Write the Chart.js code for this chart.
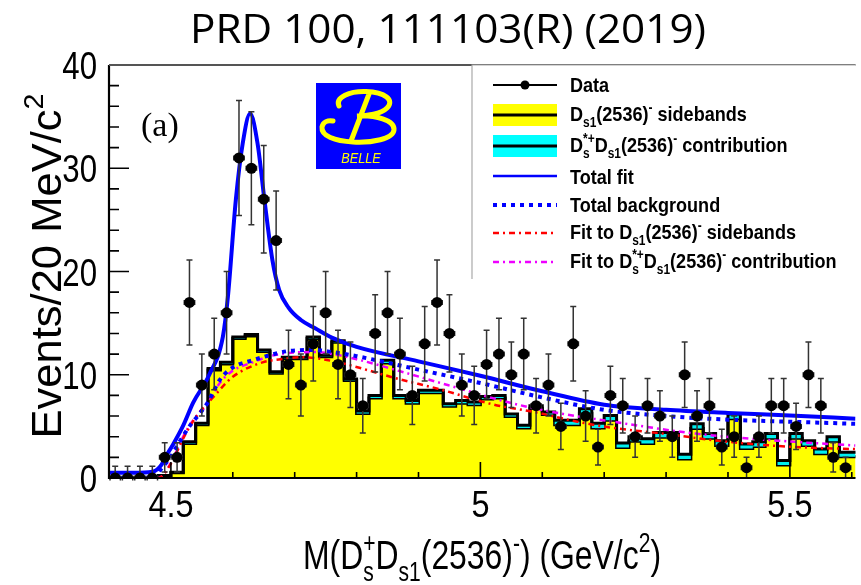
<!DOCTYPE html>
<html>
<head>
<meta charset="utf-8">
<script src="https://cdn.jsdelivr.net/npm/chart.js@4.4.0/dist/chart.umd.min.js"></script>
<style>
  html, body { margin: 0; padding: 0; background: #fff; }
</style>
</head>
<body>
<canvas id="mass-chart" width="861" height="585"></canvas>
<script>
// Bin centres, 20 MeV bins from 4.40 GeV
const massBins = [
  4.41, 4.43, 4.45, 4.47, 4.49, 4.51, 4.53, 4.55, 4.57, 4.59,
  4.61, 4.63, 4.65, 4.67, 4.69, 4.71, 4.73, 4.75, 4.77, 4.79,
  4.81, 4.83, 4.85, 4.87, 4.89, 4.91, 4.93, 4.95, 4.97, 4.99,
  5.01, 5.03, 5.05, 5.07, 5.09, 5.11, 5.13, 5.15, 5.17, 5.19,
  5.21, 5.23, 5.25, 5.27, 5.29, 5.31, 5.33, 5.35, 5.37, 5.39,
  5.41, 5.43, 5.45, 5.47, 5.49, 5.51, 5.53, 5.55, 5.57, 5.59
];
const binWidth = 0.02;

// Events per bin
const dataCounts = [
  0, 0, 0, 0, 2, 2, 17, 9, 12, 16,
  31, 30, 27, 23, 11, 9, 13, 16, 11, 10,
  7, 14, 16, 12, 8, 13, 17, 14, 9, 8,
  11, 12, 10, 12, 7, 9, 5, 13, 6, 3,
  8, 7, 4, 7, 6, 4, 10, 6, 7, 3,
  4, 1, 4, 7, 7, 5, 10, 7, 2, 1
];

// Ds1(2536) sideband histogram (yellow)
const sidebandHist = [
  0, 0, 0, 0, 0.2, 0.5, 3.35, 5.15, 10.45, 11.05,
  13.5, 13.75, 12.25, 10.15, 11.55, 11.55, 13.5, 11.75, 13.15, 9.45,
  6.25, 7.75, 11.15, 7.75, 7.25, 8.25, 8.25, 6.95, 7.25, 7.1,
  7.65, 7.75, 5.95, 4.85, 6.75, 6.15, 5.15, 5.15, 6.25, 4.85,
  5.6, 2.95, 3.55, 3.35, 3.95, 3.95, 1.85, 4.8, 3.85, 3.15,
  5.75, 2.85, 3.05, 3.85, 1.25, 3.85, 3.15, 2.35, 3.55, 2.05
];

// Ds*+ Ds1(2536)- contribution stacked on top (cyan)
const contribHist = [
  0, 0, 0, 0, 0.05, 0.05, 0.15, 0.15, 0.15, 0.15,
  0.15, 0.15, 0.15, 0.15, 0.15, 0.15, 0.15, 0.15, 0.15, 0.15,
  0.25, 0.25, 0.25, 0.25, 0.25, 0.25, 0.25, 0.25, 0.25, 0.25,
  0.25, 0.25, 0.25, 0.25, 0.25, 0.25, 0.45, 0.45, 0.45, 0.45,
  0.45, 0.45, 0.45, 0.45, 0.45, 0.45, 0.45, 0.45, 0.45, 0.45,
  0.45, 0.45, 0.45, 0.45, 0.45, 0.45, 0.45, 0.45, 0.45, 0.45
];

// fit curves, [mass, events]
const totalFit = [
  [4.40, 0.5], [4.44, 0.5], [4.47, 0.6], [4.485, 1.3], [4.49, 1.9], [4.504, 3.3],
  [4.52, 5.1], [4.536, 7.3], [4.562, 10.0], [4.584, 13.7], [4.592, 17.5], [4.605, 27.0],
  [4.616, 32.4], [4.628, 35.3], [4.640, 32.4], [4.651, 27.0], [4.664, 21.1],
  [4.675, 18.2], [4.69, 16.5], [4.71, 15.3], [4.733, 14.5], [4.76, 13.6],
  [4.80, 12.7], [4.90, 11.3], [5.00, 9.9], [5.10, 8.4], [5.20, 7.1],
  [5.30, 6.6], [5.40, 6.3], [5.50, 6.05], [5.606, 5.75]
];
const totalBackground = [
  [4.40, 0], [4.475, 0], [4.482, 0.7], [4.498, 1.9], [4.509, 3.0], [4.52, 4.1],
  [4.533, 5.25], [4.546, 6.2], [4.56, 7.35], [4.579, 9.5],
  [4.60, 10.7], [4.632, 11.4], [4.66, 11.9], [4.69, 12.3], [4.73, 12.4],
  [4.76, 12.2], [4.80, 11.8], [4.90, 10.5], [5.00, 9.2], [5.10, 7.8],
  [5.20, 6.6], [5.30, 6.0], [5.40, 5.65], [5.50, 5.45], [5.606, 5.25]
];
const sidebandFit = [
  [4.40, 0], [4.48, 0], [4.496, 1.0], [4.525, 4.4], [4.544, 6.2], [4.568, 7.8], [4.60, 9.8],
  [4.648, 11.2], [4.677, 11.5], [4.712, 11.7], [4.771, 11.2], [4.803, 10.7],
  [4.867, 9.6], [4.931, 8.65], [5.022, 7.1], [5.086, 6.4], [5.161, 5.4],
  [5.209, 4.9], [5.294, 4.3], [5.401, 3.5], [5.508, 3.0], [5.606, 2.8]
];
const contribFit = [
  [4.40, 0], [4.48, 0], [4.496, 1.05], [4.525, 4.6], [4.544, 6.2], [4.557, 7.0], [4.579, 9.2],
  [4.60, 10.4], [4.632, 11.2], [4.66, 11.8], [4.69, 12.1], [4.73, 12.2],
  [4.77, 11.9], [4.80, 11.5], [4.867, 10.4], [4.947, 9.0], [5.054, 7.2],
  [5.134, 6.2], [5.198, 5.6], [5.348, 4.3], [5.508, 3.5], [5.606, 3.15]
];

const yTicks = [0, 10, 20, 30, 40];
const xTicks = [4.5, 5, 5.5];

const SANS = '"Liberation Sans", Arial, Helvetica, sans-serif';

// step histogram points at the low edge of each bin
function histPoints(values) {
  const pts = massBins.map((m, i) => ({ x: m - binWidth / 2, y: values[i] }));
  const last = values[values.length - 1];
  pts.push({ x: massBins[massBins.length - 1] + binWidth / 2, y: last });
  pts.push({ x: 5.65, y: last });
  return pts;
}
const stackedHist = sidebandHist.map((v, i) => v + contribHist[i]);
const toXY = arr => arr.map(p => ({ x: p[0], y: p[1] }));

// text with sub/superscripts: parts are strings or {sub, sup}
function layoutRich(ctx, parts, size, weight, family) {
  const small = size * 0.66;
  let w = 0;
  const items = [];
  parts.forEach(p => {
    if (typeof p === 'string') {
      ctx.font = weight + ' ' + size + 'px ' + family;
      items.push({ t: p, x: w, dy: 0, font: ctx.font });
      w += ctx.measureText(p).width;
    } else {
      ctx.font = weight + ' ' + small + 'px ' + family;
      let sw = 0;
      if (p.sub) {
        items.push({ t: p.sub, x: w, dy: size * 0.3, font: ctx.font });
        sw = Math.max(sw, ctx.measureText(p.sub).width);
      }
      if (p.sup) {
        items.push({ t: p.sup, x: w, dy: -size * 0.42, font: ctx.font });
        sw = Math.max(sw, ctx.measureText(p.sup).width);
      }
      w += sw;
    }
  });
  return { items, width: w };
}

function drawRich(ctx, parts, x, y, o) {
  const lay = layoutRich(ctx, parts, o.size, o.weight || 'normal', o.family || SANS);
  const sx = o.width ? o.width / lay.width : (o.scaleX || 1);
  ctx.save();
  ctx.translate(x, y);
  if (o.rotate) ctx.rotate(o.rotate);
  ctx.scale(sx, 1);
  let x0 = 0;
  if (o.align === 'center') x0 = -lay.width / 2;
  if (o.align === 'right') x0 = -lay.width;
  ctx.fillStyle = o.color || '#000';
  ctx.textAlign = 'left';
  ctx.textBaseline = 'alphabetic';
  lay.items.forEach(it => {
    ctx.font = it.font;
    ctx.fillText(it.t, x0 + it.x, it.dy);
  });
  ctx.restore();
}

// vertical and horizontal error bars under the data markers
const errorBars = {
  id: 'errorBars',
  beforeDatasetDraw(chart, args) {
    if (args.index !== 0) return;
    const { ctx, scales: { x, y } } = chart;
    ctx.save();
    ctx.strokeStyle = '#333';
    ctx.lineWidth = 1.5;
    massBins.forEach((m, i) => {
      const n = dataCounts[i];
      const e = n > 0 ? Math.sqrt(n) : 1.15;
      const px = x.getPixelForValue(m);
      const top = y.getPixelForValue(n + e);
      const bot = y.getPixelForValue(Math.max(0, n - e));
      const py = y.getPixelForValue(n);
      const xl = x.getPixelForValue(m - binWidth / 2) + 1;
      const xr = x.getPixelForValue(m + binWidth / 2) - 1;
      ctx.beginPath();
      ctx.moveTo(px, top); ctx.lineTo(px, bot);
      ctx.moveTo(px - 3, top); ctx.lineTo(px + 3, top);
      if (n > 0) { ctx.moveTo(px - 3, bot); ctx.lineTo(px + 3, bot); }
      ctx.moveTo(xl, py); ctx.lineTo(xr, py);
      ctx.moveTo(xl, py - 2.5); ctx.lineTo(xl, py + 2.5);
      ctx.moveTo(xr, py - 2.5); ctx.lineTo(xr, py + 2.5);
      ctx.stroke();
    });
    ctx.restore();
  }
};

// frame, inside ticks and axis labels
const axisFrame = {
  id: 'axisFrame',
  afterDatasetsDraw(chart) {
    const { ctx, chartArea: a, scales: { x, y } } = chart;
    ctx.save();
    ctx.strokeStyle = '#000';
    ctx.lineWidth = 1.6;
    ctx.beginPath();
    for (let v = 0; v <= 40; v += 2) {
      const py = y.getPixelForValue(v);
      const len = v % 10 === 0 ? 20 : 10;
      ctx.moveTo(a.left, py); ctx.lineTo(a.left + len, py);
    }
    for (let i = 44; i <= 56; i++) {
      const px = x.getPixelForValue(i / 10);
      const len = i % 5 === 0 ? 16 : 6;
      ctx.moveTo(px, a.bottom); ctx.lineTo(px, a.bottom - len);
    }
    ctx.stroke();
    ctx.lineWidth = 2.2;
    ctx.beginPath();
    ctx.moveTo(a.left, a.top); ctx.lineTo(a.left, a.bottom); ctx.lineTo(a.right, a.bottom);
    ctx.stroke();
    ctx.strokeStyle = '#555';
    ctx.beginPath();
    ctx.moveTo(a.left, a.top); ctx.lineTo(a.right, a.top);
    ctx.stroke();
    ctx.restore();

    yTicks.forEach(v => {
      drawRich(ctx, [String(v)], a.left - 12, y.getPixelForValue(v) + 14, { size: 39, align: 'right', scaleX: 0.8 });
    });
    xTicks.forEach(v => {
      drawRich(ctx, [String(v)], x.getPixelForValue(v), 517, { size: 36, align: 'center', scaleX: 0.9 });
    });
    drawRich(ctx, ['M(D', { sub: 's', sup: '+' }, 'D', { sub: 's1' }, '(2536)', { sup: '-' }, ') (GeV/c', { sup: '2' }, ')'],
      482, 569, { size: 41, align: 'center', width: 358 });
    drawRich(ctx, ['Events/20 MeV/c', { sup: '2' }], 61, 266,
      { size: 42, align: 'center', width: 345, rotate: -Math.PI / 2 });
    drawRich(ctx, ['(a)'], 141, 136, { size: 34, family: '"Liberation Serif", "Times New Roman", serif' });
  }
};

// legend box with the ROOT style entries
const rootLegend = {
  id: 'rootLegend',
  afterDatasetsDraw(chart) {
    const { ctx, chartArea: a } = chart;
    const x0 = 472, y0 = a.top, y1 = 279;
    const s0 = 493, s1 = 557, tx = 570;
    ctx.save();
    ctx.fillStyle = '#fff';
    ctx.fillRect(x0, y0, a.right - x0, y1 - y0);
    ctx.strokeStyle = '#aaa';
    ctx.lineWidth = 1.2;
    ctx.beginPath();
    ctx.moveTo(a.right, y0); ctx.lineTo(x0, y0); ctx.lineTo(x0, y1);
    ctx.stroke();

    const line = (yy, color, width, dash) => {
      ctx.save();
      ctx.strokeStyle = color; ctx.lineWidth = width; ctx.setLineDash(dash || []);
      ctx.beginPath(); ctx.moveTo(s0, yy); ctx.lineTo(s1, yy); ctx.stroke();
      ctx.restore();
    };
    line(85, '#000', 2);
    ctx.fillStyle = '#000';
    ctx.beginPath(); ctx.arc((s0 + s1) / 2, 85, 4.5, 0, Math.PI * 2); ctx.fill();
    ctx.fillStyle = '#ffff00'; ctx.fillRect(s0, 104, s1 - s0, 22);
    line(115, '#000', 3);
    ctx.fillStyle = '#00ffff'; ctx.fillRect(s0, 135, s1 - s0, 22);
    line(146, '#000', 3);
    line(176, '#0000ff', 2.5);
    line(205, '#0000ff', 4, [4, 5]);
    line(233, '#ff0000', 2.5, [6, 4, 2, 4]);
    line(262, '#ee00ff', 2.5, [6, 4, 2, 4]);
    ctx.restore();

    const o = { size: 21, weight: 'bold', scaleX: 0.86 };
    drawRich(ctx, ['Data'], tx, 92, o);
    drawRich(ctx, ['D', { sub: 's1' }, '(2536)', { sup: '-' }, ' sidebands'], tx, 121, o);
    drawRich(ctx, ['D', { sub: 's', sup: '*+' }, 'D', { sub: 's1' }, '(2536)', { sup: '-' }, ' contribution'], tx, 152, o);
    drawRich(ctx, ['Total fit'], tx, 184, o);
    drawRich(ctx, ['Total background'], tx, 212, o);
    drawRich(ctx, ['Fit to D', { sub: 's1' }, '(2536)', { sup: '-' }, ' sidebands'], tx, 239, o);
    drawRich(ctx, ['Fit to D', { sub: 's', sup: '*+' }, 'D', { sub: 's1' }, '(2536)', { sup: '-' }, ' contribution'], tx, 268, o);
  }
};

// Belle logo and the reference line above the frame
const belleLogo = {
  id: 'belleLogo',
  afterDraw(chart) {
    const { ctx } = chart;
    ctx.save();
    ctx.fillStyle = '#0000ff';
    ctx.fillRect(316, 83, 85, 86);
    ctx.strokeStyle = '#ffff00';
    ctx.lineWidth = 5;
    ctx.lineCap = 'round';
    ctx.beginPath();
    ctx.moveTo(339, 106);
    ctx.bezierCurveTo(335, 97, 350, 91, 366, 91.5);
    ctx.bezierCurveTo(385, 92, 395, 100, 387, 108);
    ctx.bezierCurveTo(381, 114, 367, 116, 357, 116);
    ctx.bezierCurveTo(375, 115, 395, 120, 394, 130);
    ctx.bezierCurveTo(393, 139, 372, 143, 353, 142);
    ctx.bezierCurveTo(335, 141, 321, 136, 322, 127);
    ctx.bezierCurveTo(323, 122, 328, 120, 333, 121);
    ctx.moveTo(369, 94);
    ctx.lineTo(351, 141);
    ctx.stroke();
    ctx.restore();
    drawRich(ctx, ['BELLE'], 361, 163, { size: 15, weight: 'italic', align: 'center', scaleX: 0.85, color: '#ffff00' });
    drawRich(ctx, ['PRD 100, 111103(R) (2019)'], 448, 43,
      { size: 40, align: 'center', width: 516, family: '"Open Sans", "Noto Sans", sans-serif' });
  }
};

const chartCanvas = document.getElementById('mass-chart');

new Chart(chartCanvas, {
  type: 'line',
  data: {
    datasets: [
      {
        label: 'Data',
        data: massBins.map((m, i) => ({ x: m, y: dataCounts[i] })),
        showLine: false,
        pointRadius: 5.5,
        pointBackgroundColor: '#000',
        pointBorderWidth: 0,
        order: 0
      },
      {
        label: 'Total fit',
        data: toXY(totalFit),
        borderColor: '#0000ff',
        borderWidth: 4,
        pointRadius: 0,
        cubicInterpolationMode: 'monotone',
        order: 1
      },
      {
        label: 'Total background',
        data: toXY(totalBackground),
        borderColor: '#0000ff',
        borderWidth: 4,
        borderDash: [4, 5],
        pointRadius: 0,
        cubicInterpolationMode: 'monotone',
        order: 2
      },
      {
        label: 'Fit to sidebands',
        data: toXY(sidebandFit),
        borderColor: '#ff0000',
        borderWidth: 2.5,
        borderDash: [6, 4, 2, 4],
        pointRadius: 0,
        cubicInterpolationMode: 'monotone',
        order: 3
      },
      {
        label: 'Fit to contribution',
        data: toXY(contribFit),
        borderColor: '#ee00ff',
        borderWidth: 2.5,
        borderDash: [6, 4, 2, 4],
        pointRadius: 0,
        cubicInterpolationMode: 'monotone',
        order: 4
      },
      {
        label: 'Contribution',
        data: histPoints(stackedHist),
        stepped: 'before',
        borderColor: '#000',
        borderWidth: 3,
        backgroundColor: '#00eeee',
        fill: 6,
        pointRadius: 0,
        order: 5
      },
      {
        label: 'Sidebands',
        data: histPoints(sidebandHist),
        stepped: 'before',
        borderColor: '#000',
        borderWidth: 3,
        backgroundColor: '#ffff00',
        fill: 'origin',
        pointRadius: 0,
        order: 6
      }
    ]
  },
  options: {
    responsive: false,
    animation: false,
    devicePixelRatio: 1,
    layout: { padding: { top: 65, right: 0, left: 0, bottom: 0 } },
    plugins: {
      legend: { display: false },
      tooltip: { enabled: false }
    },
    scales: {
      x: {
        type: 'linear',
        min: 4.4,
        max: 5.606,
        grid: { display: false },
        border: { display: false },
        ticks: { display: false },
        afterFit: s => { s.height = 107; }
      },
      y: {
        min: 0,
        max: 40,
        grid: { display: false },
        border: { display: false },
        ticks: { display: false },
        afterFit: s => { s.width = 109; }
      }
    }
  },
  plugins: [errorBars, axisFrame, rootLegend, belleLogo]
});
</script>
</body>
</html>
